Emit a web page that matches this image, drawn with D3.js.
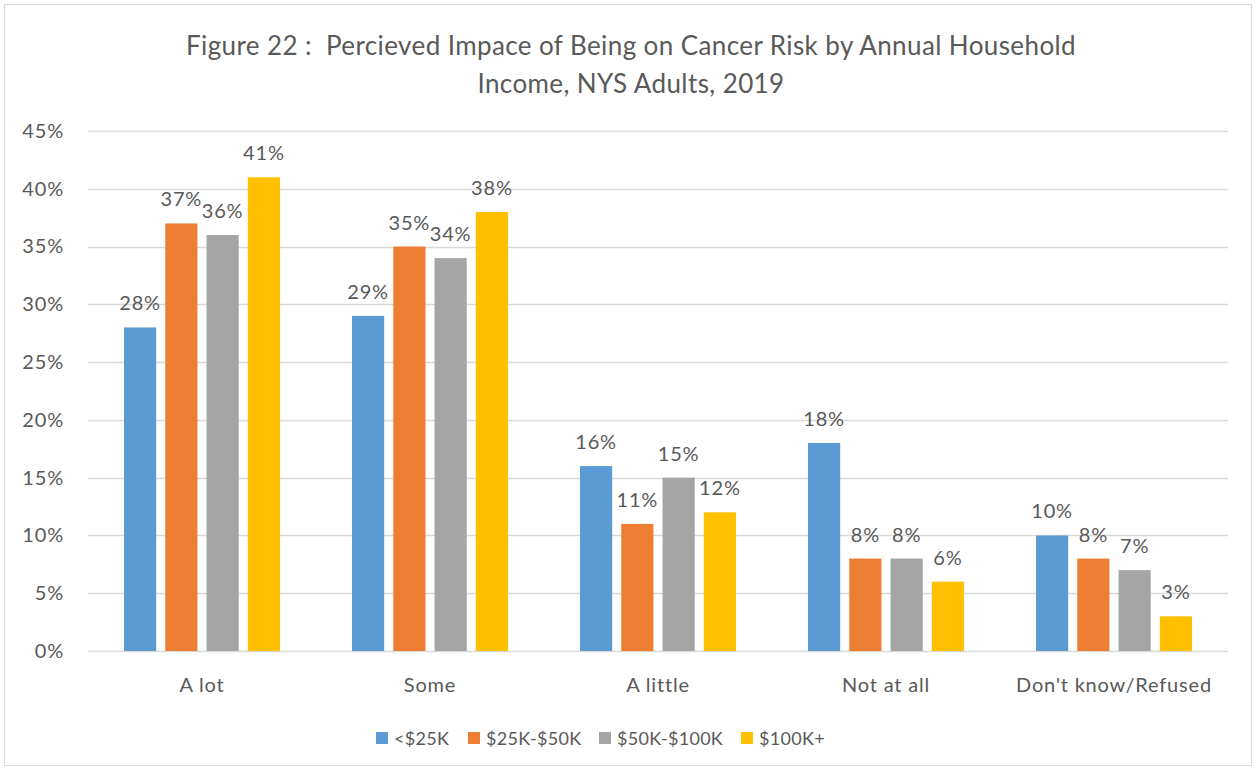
<!DOCTYPE html>
<html>
<head>
<meta charset="utf-8">
<script src="https://cdn.jsdelivr.net/npm/d3@7"></script>
<style>
  body { margin: 0; background: #fff; }
  text { font-family: Lato, "Open Sans", sans-serif; fill: #595959; }
</style>
</head>
<body>
<svg width="1256" height="770"></svg>
<script>
var categories = ["A lot", "Some", "A little", "Not at all", "Don't know/Refused"];
var series = ["<$25K", "$25K-$50K", "$50K-$100K", "$100K+"];
var under25 = [28, 29, 16, 18, 10];
var from25to50 = [37, 35, 11, 8, 8];
var from50to100 = [36, 34, 15, 8, 7];
var over100 = [41, 38, 12, 6, 3];
var yTicks = [0, 5, 10, 15, 20, 25, 30, 35, 40, 45];
var colors = ["#5B9BD5", "#ED7D31", "#A5A5A5", "#FFC000"];

var values = [under25, from25to50, from50to100, over100];

var svg = d3.select("svg"),
    width = +svg.attr("width"),
    height = +svg.attr("height");

// chart border
svg.append("rect")
    .attr("x", 4.5).attr("y", 4.5)
    .attr("width", width - 9).attr("height", height - 9)
    .attr("fill", "#fff").attr("stroke", "#d9d9d9");

// title
var title = svg.append("text")
    .attr("text-anchor", "middle")
    .style("font-size", "26px")
    .style("letter-spacing", "0.4px")
    .style("white-space", "pre");
title.append("tspan").attr("x", 631).attr("y", 55)
    .text("Figure 22 :  Percieved Impace of Being on Cancer Risk by Annual Household");
title.append("tspan").attr("x", 631).attr("y", 93)
    .text("Income, NYS Adults, 2019");

var x0 = d3.scaleBand()
    .domain(categories)
    .range([88, 1228]);

var x1 = d3.scaleBand()
    .domain(series)
    .range([36, 192])
    .paddingInner(0.22);

var y = d3.scaleLinear()
    .domain([0, 45])
    .range([651, 131]);

// gridlines
svg.append("g").attr("class", "grid")
  .selectAll("line")
  .data(yTicks)
  .enter().append("line")
    .attr("x1", 88).attr("x2", 1228)
    .attr("y1", function(d) { return Math.round(y(d)) + 0.5; })
    .attr("y2", function(d) { return Math.round(y(d)) + 0.5; })
    .attr("stroke", "#d9d9d9")
    .attr("stroke-width", 1.3);

// y axis labels
var yAxis = svg.append("g")
    .attr("transform", "translate(64,0)")
    .call(d3.axisLeft(y).tickValues(yTicks).tickSize(0).tickPadding(0)
      .tickFormat(function(d) { return d + "%"; }));
yAxis.select(".domain").remove();
yAxis.selectAll("text").style("font-size", "20px").style("letter-spacing", "0.8px")
    .attr("fill", "#595959").style("font-family", "Lato, sans-serif");

// x axis labels
var xAxis = svg.append("g")
    .attr("transform", "translate(0,651)")
    .call(d3.axisBottom(x0).tickSize(0).tickPadding(27));
xAxis.select(".domain").remove();
xAxis.selectAll("text").style("font-size", "20px").style("letter-spacing", "0.8px")
    .attr("fill", "#595959").style("font-family", "Lato, sans-serif");

// bars
var groups = svg.append("g").selectAll("g")
  .data(categories)
  .enter().append("g")
    .attr("transform", function(d) { return "translate(" + x0(d) + ",0)"; });

groups.selectAll("rect")
  .data(function(d, i) { return series.map(function(s, j) { return {s: s, j: j, v: values[j][i]}; }); })
  .enter().append("rect")
    .attr("x", function(d) { return x1(d.s); })
    .attr("width", x1.bandwidth())
    .attr("y", function(d) { return y(d.v); })
    .attr("height", function(d) { return y(0) - y(d.v); })
    .attr("fill", function(d) { return colors[d.j]; });

groups.selectAll("text.lbl")
  .data(function(d, i) { return series.map(function(s, j) { return {s: s, j: j, v: values[j][i]}; }); })
  .enter().append("text")
    .attr("class", "lbl")
    .attr("text-anchor", "middle")
    .attr("x", function(d) { return x1(d.s) + x1.bandwidth() / 2; })
    .attr("y", function(d) { return y(d.v) - 17; })
    .style("font-size", "20px")
    .style("letter-spacing", "0.8px")
    .text(function(d) { return d.v + "%"; });

// legend
var legendX = [376, 468, 599, 741];
var legend = svg.append("g").selectAll("g")
  .data(series)
  .enter().append("g")
    .attr("transform", function(d, i) { return "translate(" + legendX[i] + ",732)"; });
legend.append("rect")
    .attr("width", 12).attr("height", 12)
    .attr("fill", function(d, i) { return colors[i]; });
legend.append("text")
    .attr("x", 18).attr("y", 13)
    .style("font-size", "18px")
    .style("letter-spacing", "0.3px")
    .text(function(d) { return d; });
</script>
</body>
</html>
